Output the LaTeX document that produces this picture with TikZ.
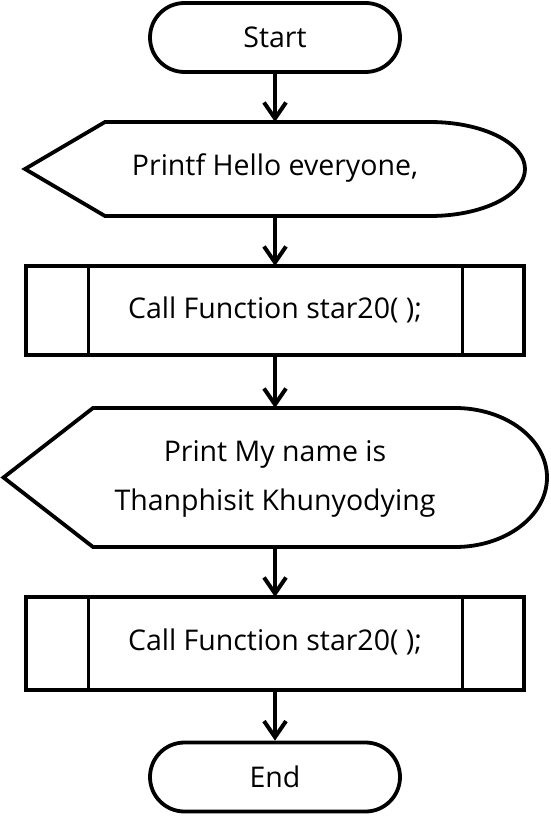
\documentclass[tikz,border=0pt]{standalone}
\usepackage{fontspec}
\setmainfont{Open Sans}
\usetikzlibrary{arrows.meta,shapes.misc}
\begin{document}
\begin{tikzpicture}[x=1pt,y=-1pt,
  outline/.style={draw=black,line width=3.8pt,line join=miter},
  txt/.style={inner sep=0pt,align=center,font=\fontsize{28.5}{49}\selectfont},
  terminal/.style={outline,rounded rectangle,minimum width=250pt,minimum height=69pt,inner sep=0pt,font=\fontsize{28.5}{34}\selectfont},
  flow/.style={line width=3.8pt,-{Straight Barb[length=16pt,width=22pt,line width=4pt]}}]
\useasboundingbox (0,0) rectangle (550,829);
% start
\node[terminal] (start) at (275,37.5) {Start};
% display 1
\draw[outline] (105,122) -- (430,122) arc[start angle=-90,end angle=90,x radius=95,y radius=47] -- (105,216) -- (25,169) -- cycle;
\node[txt] (d1) at (275,168) {Printf Hello everyone,};
\coordinate (d1top) at (275,122);
\coordinate (d1bot) at (275,216);
% process 1
\draw[outline] (26,266) rectangle (524,355);
\draw[outline] (88.5,266) -- (88.5,355) (462.5,266) -- (462.5,355);
\node[txt] (p1) at (275,310) {Call Function star20( );};
\coordinate (p1top) at (275,266);
\coordinate (p1bot) at (275,355);
% display 2
\draw[outline] (93,408) -- (455,408) arc[start angle=-90,end angle=90,x radius=92,y radius=69.5] -- (93,547) -- (3.5,477.5) -- cycle;
\node[txt] (d2) at (275,479) {Print My name is\\Thanphisit Khunyodying};
\coordinate (d2top) at (275,408);
\coordinate (d2bot) at (275,547);
% process 2
\draw[outline] (26,597) rectangle (524,690);
\draw[outline] (88.5,597) -- (88.5,690) (462.5,597) -- (462.5,690);
\node[txt] (p2) at (275,642) {Call Function star20( );};
\coordinate (p2top) at (275,597);
\coordinate (p2bot) at (275,690);
% end
\node[terminal] (end) at (275,777) {End};
% connectors
\draw[flow] (start.south) -- (d1top);
\draw[flow] (d1bot) -- (p1top);
\draw[flow] (p1bot) -- (d2top);
\draw[flow] (d2bot) -- (p2top);
\draw[flow] (p2bot) -- (end.north);
\end{tikzpicture}
\end{document}
